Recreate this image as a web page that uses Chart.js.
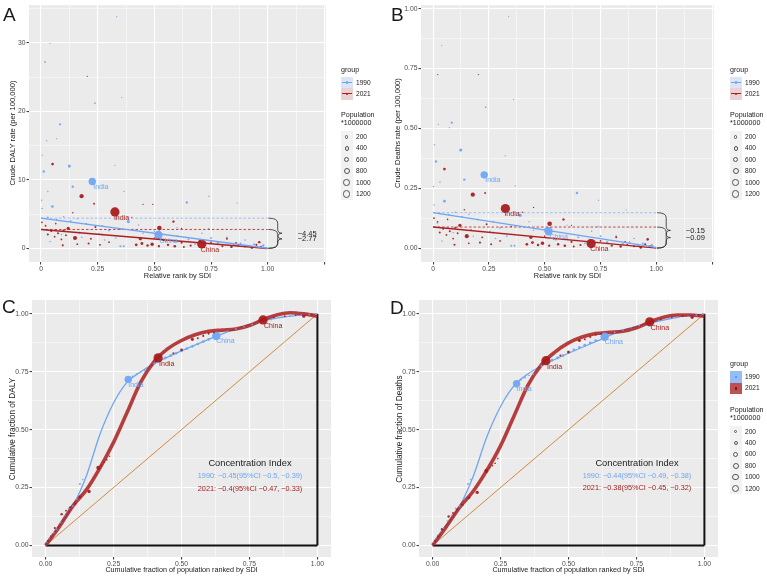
<!DOCTYPE html>
<html><head><meta charset="utf-8">
<script src="https://cdn.jsdelivr.net/npm/chart.js@4.4.1/dist/chart.umd.min.js"></script>
<style>
html,body{margin:0;padding:0;background:#fff;}
body{width:767px;height:577px;position:relative;overflow:hidden;font-family:"Liberation Sans",Arial,sans-serif;}
canvas{position:absolute;}
.t{position:absolute;white-space:nowrap;line-height:1;font-family:"Liberation Sans",Arial,sans-serif;}
.g{filter:grayscale(100%);}
.bx{position:absolute;}
</style></head><body>
<script>
// ---------------- DATA ----------------
// Panel A: [relative rank by SDI, crude DALY rate, population (millions)]
const dalyPts1990 = [
[0.226,9.75,850],[0.518,1.93,1150],[0.084,18.1,30],[0.125,12.0,90],[0.012,11.2,40],[0.14,9.0,40],[0.05,6.1,60],[0.385,3.9,110],[0.643,6.7,40],
[0.334,33.8,1],[0.04,29.9,1],[0.356,22.0,1],[0.025,15.7,3],[0.069,16.0,1],[0.006,13.6,4],[0.326,12.1,1],[0.03,8.3,6],[0.366,8.3,3],[0.74,7.6,2],[0.003,7.0,4],[0.005,5.8,8],[0.865,6.6,1],
[0.03,4.5,12],[0.07,4.2,10],[0.1,4.6,8],[0.13,4.0,15],[0.16,4.3,6],[0.2,3.6,10],[0.27,3.3,6],[0.3,2.6,12],[0.35,0.3,25],[0.365,0.3,20],[0.33,1.5,8],[0.28,1.2,6],[0.45,2.2,6],[0.6,1.8,8],[0.65,1.3,15],[0.7,1.1,20],[0.74,2.9,4],[0.78,0.8,30],[0.82,1.6,10],[0.85,0.5,20],[0.88,0.7,15],[0.92,0.3,10],[0.96,0.9,20],[0.98,0.4,40],[0.55,1.0,12],[0.71,2.2,6],[0.18,1.6,4],[0.09,2.0,6],[0.02,3.2,5],[0.43,3.4,3],[0.6,3.0,3],
[0.255,2.1,10],[0.04,1.0,5],[0.5,2.5,5],[0.68,0.6,12],[0.75,1.5,15],[0.9,1.2,8],[0.94,0.6,15]
];
const dalyPts2021 = [
[0.326,5.3,1400],[0.709,0.63,1410],[0.018,27.2,1],[0.204,25.1,1],[0.238,21.2,1],[0.051,12.3,60],[0.179,7.6,220],[0.234,6.5,15],[0.493,6.4,2],[0.522,2.95,270],[0.584,3.9,40],[0.15,1.5,200],[0.12,2.9,110],[0.004,3.8,12],[0.03,2.0,20],[0.045,2.5,12],[0.06,1.7,15],[0.075,2.2,20],[0.09,1.3,12],[0.1,2.6,30],[0.096,0.43,25],[0.14,5.2,6],[0.21,0.7,25],[0.22,1.4,15],[0.24,3.1,20],[0.27,2.0,8],[0.3,0.9,12],[0.4,4.5,3],[0.438,1.4,110],[0.42,0.5,60],[0.445,0.7,70],[0.47,0.4,40],[0.49,0.6,120],[0.54,1.2,30],[0.56,0.5,40],[0.59,0.3,50],[0.62,0.8,25],[0.66,0.4,30],[0.75,0.9,10],[0.8,0.3,30],[0.82,1.4,20],[0.84,0.2,40],[0.87,0.4,25],[0.9,0.25,20],[0.93,0.1,60],[0.963,0.9,40],[0.97,0.2,30],[0.35,2.8,5],[0.62,2.9,3],[0.16,0.6,12],[0.45,6.4,2],[0.5,1.5,6],
[0.02,3.3,10],[0.065,3.6,8],[0.11,1.9,15],[0.17,2.3,10],[0.26,0.5,20],[0.52,0.3,35],[0.63,0.2,20],[0.86,0.8,15],[0.95,0.5,25]
];
const dalyFit1990 = [[0,4.4],[1,0.0]];
const dalyFit2021 = [[0,2.75],[1,-0.02]];
const dalyIndex = ['\u22124.45','\u22122.77'];

// Panel B: [relative rank by SDI, crude deaths rate, population (millions)]
const deathPts1990 = [
[0.229,0.306,850],[0.517,0.070,1150],[0.084,0.524,30],[0.124,0.41,90],[0.013,0.362,40],[0.14,0.286,40],[0.051,0.196,60],[0.39,0.137,110],[0.644,0.23,40],
[0.338,0.967,1],[0.039,0.846,1],[0.36,0.621,1],[0.024,0.517,3],[0.073,0.503,1],[0.006,0.432,4],[0.323,0.386,1],[0.031,0.275,6],[0.368,0.26,3],[0.741,0.2,2],[0.002,0.257,4],[0.005,0.18,8],[0.865,0.16,1],
[0.03,0.145,12],[0.07,0.14,10],[0.1,0.15,8],[0.13,0.13,15],[0.16,0.14,6],[0.2,0.12,10],[0.27,0.11,6],[0.3,0.085,12],[0.35,0.01,25],[0.365,0.01,20],[0.33,0.05,8],[0.28,0.04,6],[0.45,0.075,6],[0.6,0.06,8],[0.65,0.045,15],[0.7,0.035,20],[0.74,0.09,4],[0.78,0.025,30],[0.82,0.05,10],[0.85,0.017,20],[0.88,0.025,15],[0.92,0.01,10],[0.96,0.035,20],[0.98,0.012,40],[0.55,0.035,12],[0.71,0.07,6],[0.18,0.05,4],[0.09,0.065,6],[0.02,0.105,5],[0.43,0.11,3],[0.6,0.095,3],
[0.255,0.07,10],[0.04,0.03,5],[0.5,0.08,5],[0.68,0.02,12],[0.75,0.05,15],[0.9,0.04,8],[0.94,0.02,15]
];
const deathPts2021 = [
[0.324,0.165,1400],[0.708,0.019,1410],[0.021,0.725,1],[0.203,0.725,1],[0.236,0.589,1],[0.051,0.33,60],[0.178,0.223,220],[0.233,0.23,15],[0.45,0.17,2],[0.522,0.102,270],[0.584,0.12,40],[0.151,0.05,200],[0.12,0.095,110],[0.004,0.125,12],[0.03,0.065,20],[0.045,0.08,12],[0.06,0.055,15],[0.075,0.07,20],[0.09,0.04,12],[0.1,0.085,30],[0.096,0.014,25],[0.14,0.16,6],[0.21,0.023,25],[0.22,0.045,15],[0.24,0.1,20],[0.27,0.065,8],[0.3,0.03,12],[0.4,0.15,3],[0.438,0.045,110],[0.42,0.016,60],[0.445,0.023,70],[0.47,0.013,40],[0.49,0.02,120],[0.54,0.04,30],[0.56,0.016,40],[0.59,0.01,50],[0.62,0.026,25],[0.66,0.013,30],[0.75,0.03,10],[0.8,0.01,30],[0.82,0.045,20],[0.84,0.007,40],[0.87,0.013,25],[0.9,0.008,20],[0.93,0.003,60],[0.961,0.037,40],[0.97,0.007,30],[0.35,0.09,5],[0.62,0.095,3],[0.16,0.02,12],[0.5,0.05,6],
[0.02,0.11,10],[0.065,0.12,8],[0.11,0.062,15],[0.17,0.075,10],[0.26,0.016,20],[0.52,0.01,35],[0.63,0.007,20],[0.86,0.026,15],[0.95,0.016,25]
];
const deathFit1990 = [[0,0.148],[1,0.003]];
const deathFit2021 = [[0,0.088],[1,0.0]];
const deathIndex = ['\u22120.15','\u22120.09'];

// Panel C: concentration curves for DALY [cum. population fraction, cum. DALY fraction, population]
const dalyConc1990 = [
[0.005,0.015,5],[0.012,0.03,10],[0.02,0.04,8],[0.03,0.055,12],[0.04,0.07,10],[0.055,0.1,15],[0.07,0.13,10],[0.085,0.16,20],[0.1,0.17,15],[0.115,0.2,10],[0.126,0.265,20],[0.137,0.285,8],
[0.304,0.717,850],[0.32,0.73,8],[0.335,0.74,15],[0.35,0.75,10],[0.365,0.755,12],[0.4,0.785,25],[0.42,0.8,12],[0.44,0.81,60],[0.46,0.82,60],[0.48,0.83,60],[0.5,0.84,60],[0.52,0.85,60],[0.54,0.86,60],[0.56,0.87,60],[0.58,0.88,60],[0.6,0.89,60],
[0.628,0.905,1150],[0.67,0.925,10],[0.7,0.935,12],[0.73,0.945,8],[0.76,0.955,10],[0.79,0.965,12],[0.83,0.975,8],[0.87,0.985,10],[0.9,0.99,12],[0.94,0.995,8],[0.97,0.998,10],[0.995,1.0,12]
];
const dalyConc2021 = [
[0.008,0.02,10],[0.02,0.04,12],[0.034,0.075,30],[0.059,0.135,40],[0.075,0.15,15],[0.09,0.165,20],[0.11,0.18,25],[0.126,0.21,60],[0.16,0.233,110],[0.194,0.335,200],[0.205,0.345,15],[0.215,0.36,12],[0.225,0.37,10],[0.235,0.385,8],
[0.414,0.81,1400],[0.47,0.83,20],[0.5,0.845,60],[0.54,0.89,90],[0.56,0.895,20],[0.58,0.905,25],[0.6,0.915,30],[0.62,0.92,15],
[0.80,0.974,1410],[0.84,0.985,12],[0.88,0.99,15],[0.92,0.995,12],[0.95,0.99,90],[0.98,0.998,10]
];
const dalyCurve1990 = [[0,0],[0.05,0.085],[0.1,0.17],[0.15,0.3],[0.2,0.48],[0.25,0.615],[0.3,0.705],[0.35,0.75],[0.4,0.785],[0.5,0.84],[0.6,0.89],[0.7,0.935],[0.8,0.97],[0.9,0.99],[1,1]];
const dalyCurve2021 = [[0,0],[0.05,0.08],[0.1,0.17],[0.15,0.24],[0.2,0.335],[0.25,0.445],[0.3,0.575],[0.35,0.705],[0.4,0.795],[0.45,0.85],[0.5,0.885],[0.55,0.91],[0.6,0.925],[0.65,0.93],[0.7,0.935],[0.75,0.95],[0.8,0.975],[0.85,0.995],[0.9,1.005],[0.95,1.0],[1,0.99]];
const dalyCI = ['1990: \u22120.45(95%CI \u22120.5, \u22120.39)','2021: \u22120.4(95%CI \u22120.47, \u22120.33)'];

// Panel D: concentration curves for Deaths
const deathConc1990 = [
[0.005,0.015,5],[0.012,0.03,10],[0.02,0.045,8],[0.03,0.06,12],[0.04,0.075,10],[0.055,0.105,15],[0.07,0.13,10],[0.085,0.16,20],[0.1,0.17,15],[0.115,0.2,10],[0.13,0.265,20],[0.14,0.285,8],
[0.309,0.698,850],[0.325,0.715,8],[0.34,0.725,15],[0.355,0.735,10],[0.37,0.74,12],[0.4,0.775,25],[0.42,0.79,12],[0.44,0.8,60],[0.46,0.81,60],[0.48,0.82,60],[0.5,0.835,60],[0.52,0.845,60],[0.54,0.855,60],[0.56,0.865,60],[0.58,0.875,60],[0.6,0.885,60],
[0.633,0.901,1150],[0.67,0.92,10],[0.7,0.93,12],[0.73,0.94,8],[0.76,0.95,10],[0.79,0.96,12],[0.83,0.97,8],[0.87,0.98,10],[0.9,0.985,12],[0.94,0.99,8],[0.97,0.995,10],[0.995,1.0,12]
];
const deathConc2021 = [
[0.008,0.02,10],[0.02,0.04,12],[0.034,0.07,30],[0.059,0.125,40],[0.075,0.14,15],[0.09,0.155,20],[0.11,0.175,25],[0.134,0.206,60],[0.164,0.229,110],[0.198,0.322,200],[0.21,0.335,15],[0.22,0.345,12],[0.23,0.355,10],[0.24,0.375,8],
[0.417,0.798,1400],[0.47,0.82,20],[0.5,0.835,60],[0.54,0.885,90],[0.56,0.89,20],[0.58,0.9,25],[0.6,0.91,30],[0.62,0.915,15],
[0.799,0.966,1410],[0.84,0.978,12],[0.88,0.985,15],[0.92,0.99,12],[0.955,0.985,90],[0.98,0.995,10]
];
const deathCurve1990 = [[0,0],[0.05,0.085],[0.1,0.17],[0.15,0.3],[0.2,0.47],[0.25,0.6],[0.3,0.69],[0.35,0.74],[0.4,0.775],[0.5,0.83],[0.6,0.88],[0.7,0.93],[0.8,0.96],[0.9,0.985],[1,1]];
const deathCurve2021 = [[0,0],[0.05,0.08],[0.1,0.165],[0.15,0.235],[0.2,0.325],[0.25,0.43],[0.3,0.56],[0.35,0.69],[0.4,0.78],[0.45,0.835],[0.5,0.875],[0.55,0.9],[0.6,0.915],[0.65,0.92],[0.7,0.925],[0.75,0.94],[0.8,0.965],[0.85,0.985],[0.9,0.995],[0.95,0.995],[1,0.99]];
const deathCI = ['1990: \u22120.44(95%CI \u22120.49, \u22120.38)','2021: \u22120.38(95%CI \u22120.45, \u22120.32)'];

// Country labels: [text, x, y]
const labelsA1990 = [['India',0.226,9.75],['China',0.518,1.93]];
const labelsA2021 = [['India',0.326,5.3],['China',0.709,0.63]];
const labelsB1990 = [['India',0.229,0.306],['China',0.517,0.070]];
const labelsB2021 = [['India',0.324,0.165],['China',0.708,0.019]];
const labelsC1990 = [['India',0.304,0.717],['China',0.628,0.905]];
const labelsC2021 = [['India',0.414,0.81],['China',0.80,0.974]];
const labelsD1990 = [['India',0.309,0.698],['China',0.633,0.901]];
const labelsD2021 = [['India',0.417,0.798],['China',0.799,0.966]];

// Ticks
const rankTicks = [0,0.125,0.25,0.375,0.5,0.625,0.75,0.875,1,1.125,1.25];
const rankLabels = ['0',null,'0.25',null,'0.50',null,'0.75',null,'1.00',null,''];
const dalyTicks = [0,5,10,15,20,25,30,35];
const dalyLabels = ['0',null,'10',null,'20',null,'30',null];
const deathTicks = [0,0.125,0.25,0.375,0.5,0.625,0.75,0.875,1];
const deathLabels = ['0.00',null,'0.25',null,'0.50',null,'0.75',null,'1.00'];
const fracTicks = [0,0.125,0.25,0.375,0.5,0.625,0.75,0.875,1];
const fracLabels = ['0.00',null,'0.25',null,'0.50',null,'0.75',null,'1.00'];
const groups = ['1990','2021'];
const popLevels = [200,400,600,800,1000,1200];

// ---------------- STYLE ----------------
const BLUE = 'rgba(112,166,244,0.95)', BLUE_L = '#6FA5F2', RED = 'rgba(168,26,26,0.93)', RED_L = '#AD1F1F';
const FONT = '"Liberation Sans", Arial, sans-serif';
function rad(p){ return 0.5 + 0.11*Math.sqrt(p); }
const toXY = a => a.map(t => ({x:t[0], y:t[1], p:(t[2]||0)}));

function txt(s, x, y, o){
  o = o || {};
  const d = document.createElement('div');
  d.className = 't' + (o.color ? '' : ' g'); d.textContent = s;
  d.style.left = x + 'px'; d.style.top = y + 'px';
  d.style.fontSize = (o.size || 7) + 'px';
  d.style.color = o.color || '#1A1A1A';
  if (o.rot) d.style.transform = 'translate(-50%,-50%) rotate(-90deg)';
  else if (o.center) d.style.transform = 'translate(-50%,-50%)';
  else d.style.transform = 'translateY(-50%)';
  document.body.appendChild(d);
  return d;
}
function box(x, y, w, h, css){
  const d = document.createElement('div');
  d.className = 'bx';
  d.style.left = x+'px'; d.style.top = y+'px'; d.style.width = w+'px'; d.style.height = h+'px';
  Object.assign(d.style, css || {});
  document.body.appendChild(d);
  return d;
}

function scale(pos, min, max, vals, labs, size){
  const isMajor = v => { const i = vals.indexOf(v); return i >= 0 && labs[i] !== null; };
  return {
    type:'linear', position:pos, min:min, max:max,
    afterBuildTicks: s => { s.ticks = vals.map(v => ({value:v})); },
    afterFit: s => { if (pos === 'left') s.width = size; else s.height = size; },
    ticks:{ autoSkip:false, maxRotation:0, minRotation:0, padding:1, color:'#4D4D4D',
      font:{family:FONT, size:6.8},
      callback: v => { const i = vals.indexOf(v); return (i >= 0 && labs[i]) ? labs[i] : ''; } },
    grid:{ color:'#FFFFFF', lineWidth: c => (c.tick && isMajor(c.tick.value)) ? 1.1 : 0.5,
      tickColor: c => (c.tick && isMajor(c.tick.value)) ? '#444' : 'rgba(0,0,0,0)',
      tickLength:2.5, drawTicks:true, drawOnChartArea:true },
    border:{display:false}
  };
}

const bgPlugin = { id:'bg', beforeDraw(chart){
  const a = chart.chartArea, c = chart.ctx;
  c.save(); c.fillStyle = '#EBEBEB'; c.fillRect(a.left, a.top, a.right-a.left, a.bottom-a.top); c.restore();
}};

function drawLabels(chart, list, color, dx, dy){
  const c = chart.ctx, xs = chart.scales.x, ys = chart.scales.y;
  c.save(); c.font = '7px ' + FONT; c.fillStyle = color; c.textBaseline = 'middle'; c.textAlign = 'left';
  list.forEach(l => c.fillText(l[0], xs.getPixelForValue(l[1]) + dx, ys.getPixelForValue(l[2]) + dy));
  c.restore();
}
function brace(c, x0, x1, xt, yTop, yBot){
  const ym = (yTop + yBot) / 2;
  c.beginPath();
  c.moveTo(x0, yTop);
  c.quadraticCurveTo(x1, yTop, x1, yTop + 5);
  c.lineTo(x1, ym - 4);
  c.quadraticCurveTo(x1, ym, xt, ym);
  c.quadraticCurveTo(x1, ym, x1, ym + 4);
  c.lineTo(x1, yBot - 5);
  c.quadraticCurveTo(x1, yBot, x0, yBot);
  c.stroke();
}

function makeChart(g, datasets, xs, ys, after){
  const cv = document.createElement('canvas');
  cv.width = g.w; cv.height = g.h;
  cv.style.left = g.left + 'px'; cv.style.top = g.top + 'px';
  cv.style.width = g.w + 'px'; cv.style.height = g.h + 'px';
  document.body.appendChild(cv);
  return new Chart(cv.getContext('2d'), {
    type:'scatter',
    data:{datasets:datasets},
    options:{
      responsive:false, animation:false, devicePixelRatio:1, events:[],
      layout:{padding:{left:0, top:g.pt, right:g.w - g.pr, bottom:0}},
      plugins:{legend:{display:false}, tooltip:{enabled:false}},
      scales:{x:xs, y:ys}
    },
    plugins:[bgPlugin, {id:'after', afterDatasetsDraw: after}]
  });
}

function pointsDS(arr, color, order){
  return {data:toXY(arr), showLine:false, order:order, clip:false,
    pointRadius: c => rad(c.raw.p), pointHoverRadius: c => rad(c.raw.p),
    pointBackgroundColor:color, pointBorderWidth:0, pointBorderColor:'rgba(0,0,0,0)'};
}
function lineDS(arr, color, width, order, extra){
  return Object.assign({data:toXY(arr), showLine:true, pointRadius:0, pointHoverRadius:0,
    borderColor:color, borderWidth:width, order:order, fill:false}, extra || {});
}

// ---------------- PANELS A & B ----------------
function rankPanel(g, pts90, pts21, fit90, fit21, idx, ymin, ymax, yTicks, yLabels, lab90, lab21, xmin, xmax){
  const ds = [
    lineDS(fit90, BLUE_L, 1.4, 0),
    lineDS(fit21, RED_L, 1.4, 0),
    lineDS([[0, fit90[0][1]], [1, fit90[0][1]]], 'rgba(140,185,245,0.95)', 0.9, 1, {borderDash:[2.5,2]}),
    lineDS([[0, fit21[0][1]], [1, fit21[0][1]]], 'rgba(176,45,45,0.95)', 0.9, 1, {borderDash:[2.5,2]}),
    pointsDS(pts21, RED, 2),
    pointsDS(pts90, BLUE, 3)
  ];
  return makeChart(g, ds,
    scale('bottom', xmin, xmax, rankTicks, rankLabels, g.h - g.pb),
    scale('left', ymin, ymax, yTicks, yLabels, g.pl),
    chart => {
      const c = chart.ctx, xs = chart.scales.x, ys = chart.scales.y;
      drawLabels(chart, lab90, '#6FA5F2', 1, 5.5);
      drawLabels(chart, lab21, '#A51C1C', -1, 5.8);
      c.save(); c.strokeStyle = '#2A2A2A'; c.lineWidth = 0.8;
      const x0 = xs.getPixelForValue(1.003), x1 = xs.getPixelForValue(1.044), xt = xs.getPixelForValue(1.063);
      brace(c, x0, x1, xt, ys.getPixelForValue(fit90[0][1]), ys.getPixelForValue(0));
      brace(c, x0, x1, xt, ys.getPixelForValue(fit21[0][1]), ys.getPixelForValue(0));
      c.font = '7.5px ' + FONT; c.fillStyle = '#1A1A1A'; c.textBaseline = 'middle';
      const ym90 = (ys.getPixelForValue(fit90[0][1]) + ys.getPixelForValue(0)) / 2;
      const ym21 = (ys.getPixelForValue(fit21[0][1]) + ys.getPixelForValue(0)) / 2;
      const xl = xs.getPixelForValue(1.132);
      c.fillText(idx[0], xl, ym90 + 0.5);
      c.fillText(idx[1], xl, ym21 + 0.5);
      c.restore();
    });
}

rankPanel({left:0, top:0, w:332, h:280, pl:29, pr:326, pt:3, pb:262},
  dalyPts1990, dalyPts2021, dalyFit1990, dalyFit2021, dalyIndex, -2.0, 35.5, dalyTicks, dalyLabels,
  labelsA1990, labelsA2021, -0.053, 1.257);
rankPanel({left:390, top:0, w:332, h:280, pl:31, pr:324, pt:3, pb:262},
  deathPts1990, deathPts2021, deathFit1990, deathFit2021, deathIndex, -0.058, 1.015, deathTicks, deathLabels,
  labelsB1990, labelsB2021, -0.054, 1.258);

// ---------------- PANELS C & D ----------------
function concPanel(g, pts90, pts21, cur90, cur21, lab90, lab21){
  const ds = [
    pointsDS(pts21, RED, 0),
    pointsDS(pts90, BLUE, 1),
    lineDS(cur21, 'rgba(170,32,32,0.85)', 3.6, 2, {cubicInterpolationMode:'monotone'}),
    lineDS(cur90, BLUE_L, 1.3, 3, {cubicInterpolationMode:'monotone'}),
    lineDS([[1,0],[1,1]], '#111111', 2, 4),
    lineDS([[0,0],[1,0]], '#111111', 2, 4),
    lineDS([[0,0],[1,1]], '#D68A3E', 1, 5)
  ];
  return makeChart(g, ds,
    scale('bottom', -0.05, 1.05, fracTicks, fracLabels, g.h - g.pb),
    scale('left', -0.05, 1.06, fracTicks, fracLabels, g.pl),
    chart => {
      drawLabels(chart, lab90, '#6FA5F2', 0, 5.5);
      drawLabels(chart, lab21, '#A51C1C', 1, 6);
    });
}
concPanel({left:0, top:280, w:338, h:297, pl:32, pr:331, pt:20, pb:277},
  dalyConc1990, dalyConc2021, dalyCurve1990, dalyCurve2021, labelsC1990, labelsC2021);
concPanel({left:390, top:280, w:335, h:297, pl:29, pr:328, pt:20, pb:277},
  deathConc1990, deathConc2021, deathCurve1990, deathCurve2021, labelsD1990, labelsD2021);

// ---------------- TEXT ----------------
txt('A', 3, 14, {size:19});
txt('B', 391, 14, {size:19});
txt('C', 2, 306, {size:19});
txt('D', 390, 307, {size:19});

txt('Crude DALY rate (per 100,000)', 12.5, 132.5, {size:7.6, rot:true});
txt('Crude Deaths rate (per 100,000)', 398, 132.5, {size:7.6, rot:true});
txt('Cumulative fraction of DALY', 12.5, 428.5, {size:8.2, rot:true});
txt('Cumulative fraction of Deaths', 400, 428.5, {size:8.2, rot:true});
txt('Relative rank by SDI', 177.5, 275.5, {size:7.4, center:true});
txt('Relative rank by SDI', 567.5, 275.5, {size:7.4, center:true});
txt('Cumulative fraction of population ranked by SDI', 181.5, 570, {size:7.2, center:true});
txt('Cumulative fraction of population ranked by SDI', 568.5, 570, {size:7.2, center:true});

txt('Concentration Index', 250, 464, {size:9.3, center:true});
txt(dalyCI[0], 250, 476, {size:7.3, center:true, color:'#6FA5F2'});
txt(dalyCI[1], 250, 488.5, {size:7.3, center:true, color:'#A51C1C'});
txt('Concentration Index', 637, 464, {size:9.3, center:true});
txt(deathCI[0], 637, 476, {size:7.3, center:true, color:'#6FA5F2'});
txt(deathCI[1], 637, 487.5, {size:7.3, center:true, color:'#A51C1C'});

// ---------------- LEGENDS ----------------
function sizeLegend(x, yTitle, yFirst){
  txt('Population', x, yTitle, {size:7.1});
  txt('*1000000', x, yTitle + 8.3, {size:7.1});
  box(x, yFirst - 5.7, 11.5, 11.4*popLevels.length, {background:'#F2F2F2'});
  popLevels.forEach((p, i) => {
    const y = yFirst + 11.4*i, r = rad(p)*0.83;
    box(x + 5.75 - r, y - r, 2*r, 2*r, {border:'0.7px solid #555', borderRadius:'50%', boxSizing:'border-box'});
    txt(String(p), x + 15, y, {size:6.6});
  });
}
function lineLegend(x, y){
  txt('group', x, y, {size:7.1});
  const cols = [['#DCE5F3', BLUE_L], ['#EBD2D2', RED_L]];
  groups.forEach((gname, i) => {
    const yc = y + 12 + 11.4*i;
    box(x, yc - 5.7, 11.5, 11.4, {background:cols[i][0]});
    box(x + 1, yc - 0.6, 9.5, 1.2, {background:cols[i][1]});
    box(x + 4.5, yc - 1.3, 2.6, 2.6, {background:cols[i][1], borderRadius:'50%'});
    txt(gname, x + 15, yc, {size:6.6});
  });
}
function fillLegend(x, y){
  txt('group', x, y, {size:7.1});
  const cols = [['rgba(112,166,244,0.75)', '#4F8FE8'], ['rgba(170,32,32,0.78)', '#7A0E0E']];
  groups.forEach((gname, i) => {
    const yc = y + 12 + 11.4*i;
    box(x, yc - 5.7, 11.5, 11.4, {background:cols[i][0]});
    box(x + 4.5, yc - 1.3, 2.6, 2.6, {background:cols[i][1], borderRadius:'50%'});
    txt(gname, x + 15, yc, {size:6.6});
  });
}
lineLegend(341, 70.5);
sizeLegend(341, 115.5, 137);
lineLegend(730, 70.5);
sizeLegend(730, 115.5, 137);
fillLegend(730, 365);
sizeLegend(730, 410.5, 431.5);
</script>
</body></html>
